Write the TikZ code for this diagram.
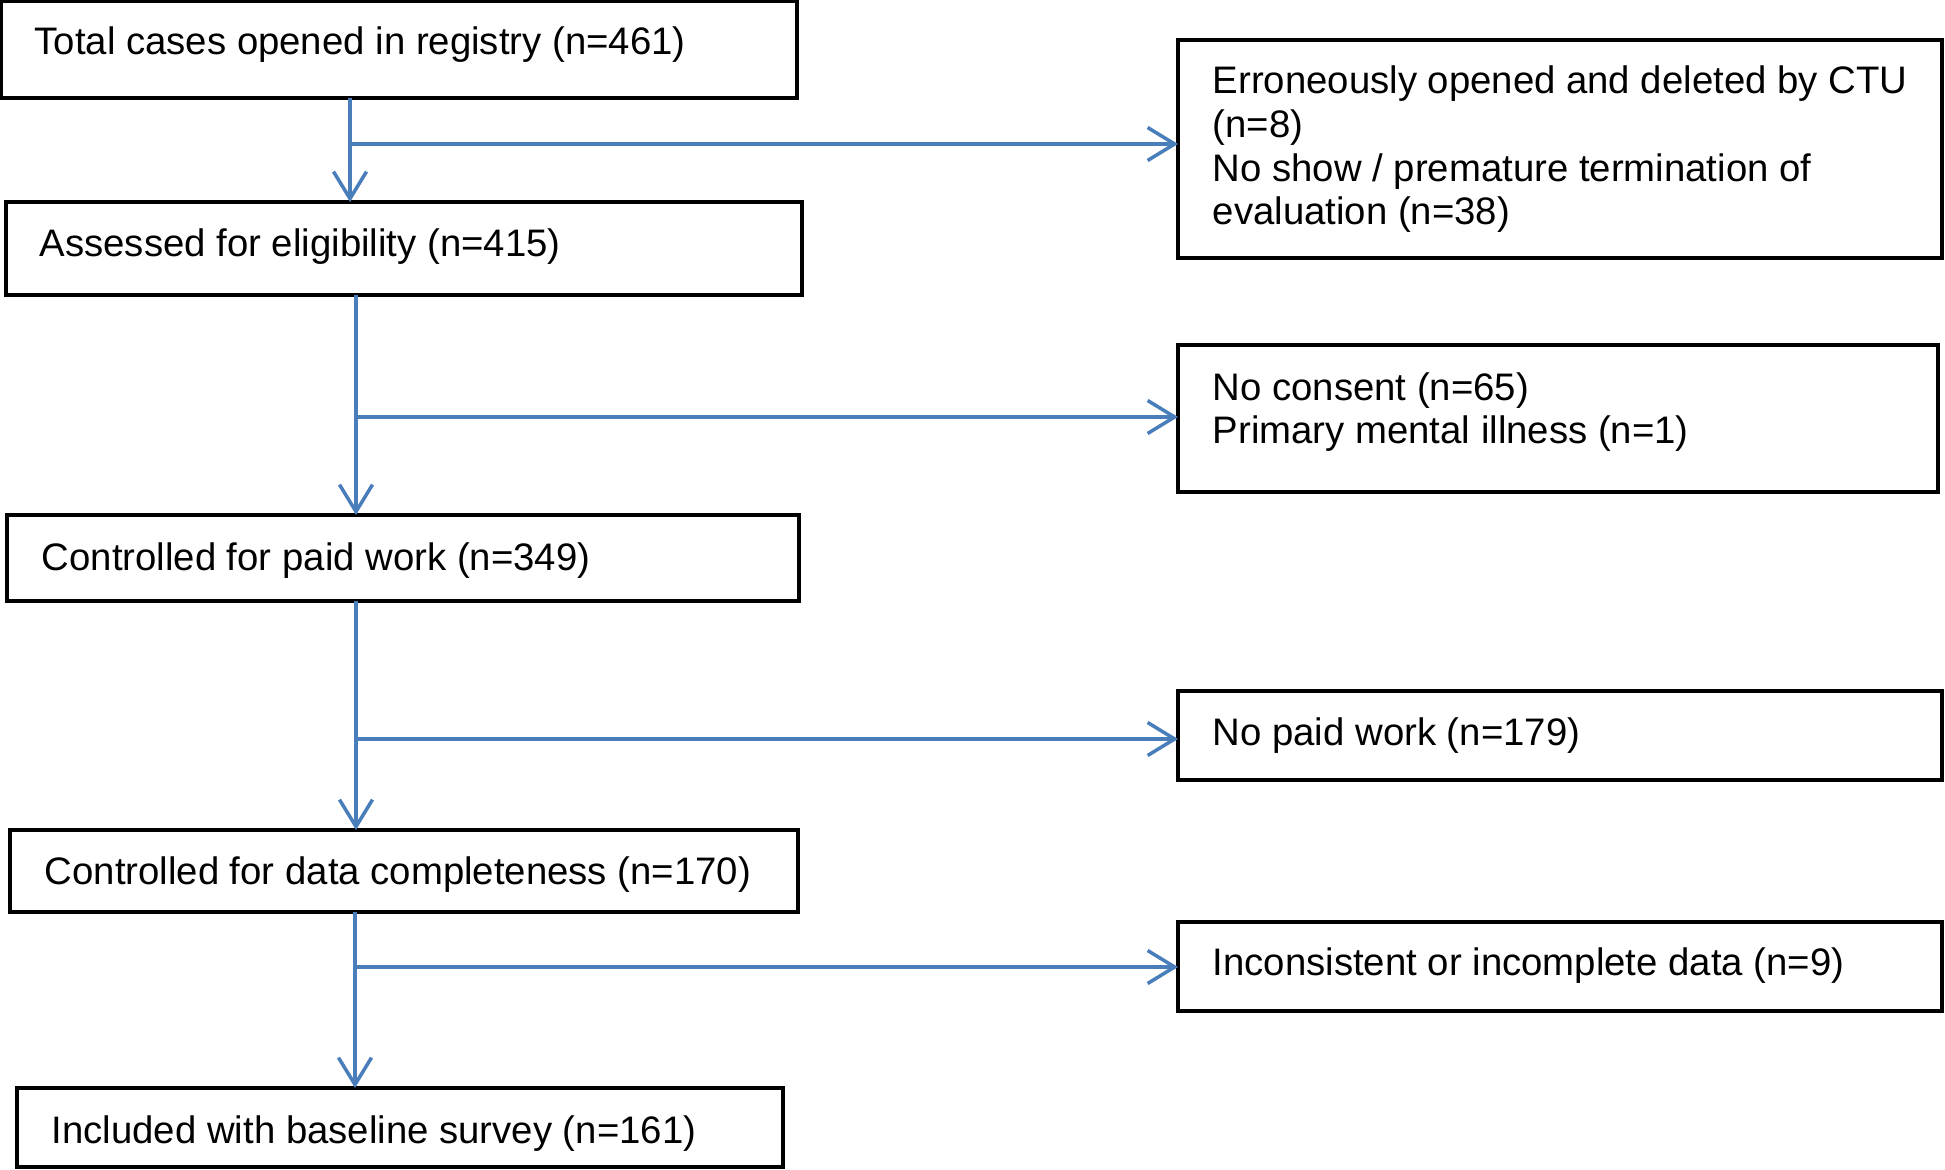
\documentclass[tikz,border=0pt]{standalone}
\usepackage{fontspec}
\setmainfont{Liberation Sans}
\usetikzlibrary{arrows.meta}
\definecolor{linkblue}{HTML}{4A7EBB}
\begin{document}
\begin{tikzpicture}[x=0.01cm,y=-0.01cm,
  box/.style={draw=black, line width=1.15pt, rectangle, inner sep=0pt, outer sep=0pt, anchor=north west},
  txt/.style={anchor=base west, inner sep=0pt, font=\fontsize{10.9}{12.38}\selectfont},
  conn/.style={draw=linkblue, line width=1pt, -{Straight Barb[length=0.27cm,width=0.33cm,line width=1pt]}}]
\useasboundingbox (0,0) rectangle (1945,1170);

% left boxes
\node[box, minimum width=7.96cm, minimum height=0.97cm] (b1) at (1,1) {};
\node[box, minimum width=7.96cm, minimum height=0.93cm] (b2) at (6,202) {};
\node[box, minimum width=7.92cm, minimum height=0.86cm] (b3) at (7,515) {};
\node[box, minimum width=7.88cm, minimum height=0.82cm] (b4) at (10,830) {};
\node[box, minimum width=7.66cm, minimum height=0.79cm] (b5) at (17,1088) {};

% right boxes
\node[box, minimum width=7.64cm, minimum height=2.18cm] (rA) at (1178,40) {};
\node[box, minimum width=7.60cm, minimum height=1.47cm] (rB) at (1178,345) {};
\node[box, minimum width=7.64cm, minimum height=0.89cm] (rC) at (1178,691) {};
\node[box, minimum width=7.64cm, minimum height=0.89cm] (rD) at (1178,922) {};

% texts
\node[txt] (t1) at (34,55) {Total cases opened in registry (n=461)};
\node[txt] (t2) at (39,257) {Assessed for eligibility (n=415)};
\node[txt] (t3) at (41,570) {Controlled for paid work (n=349)};
\node[txt] (t4) at (44,884) {Controlled for data completeness (n=170)};
\node[txt] (t5) at (51,1143) {Included with baseline survey (n=161)};
\node[txt] (tA) at (1212,94) {\begin{tabular}[t]{@{}l@{}}Erroneously opened and deleted by CTU\\(n=8)\\No show / premature termination of\\evaluation (n=38)\end{tabular}};
\node[txt] (tB) at (1212,400) {\begin{tabular}[t]{@{}l@{}}No consent (n=65)\\Primary mental illness (n=1)\end{tabular}};
\node[txt] (tC) at (1212,745) {No paid work (n=179)};
\node[txt] (tD) at (1212,975) {Inconsistent or incomplete data (n=9)};

% connectors
\coordinate (j1) at (350,144);
\coordinate (j2) at (356,417);
\coordinate (j3) at (356,739);
\coordinate (j4) at (355,967);

\draw[conn] (b1.south -| j1) -- (b2.north -| j1);
\draw[conn] (j1) -- (j1 -| rA.west);
\draw[conn] (b2.south -| j2) -- (b3.north -| j2);
\draw[conn] (j2) -- (j2 -| rB.west);
\draw[conn] (b3.south -| j3) -- (b4.north -| j3);
\draw[conn] (j3) -- (j3 -| rC.west);
\draw[conn] (b4.south -| j4) -- (b5.north -| j4);
\draw[conn] (j4) -- (j4 -| rD.west);
\end{tikzpicture}
\end{document}
